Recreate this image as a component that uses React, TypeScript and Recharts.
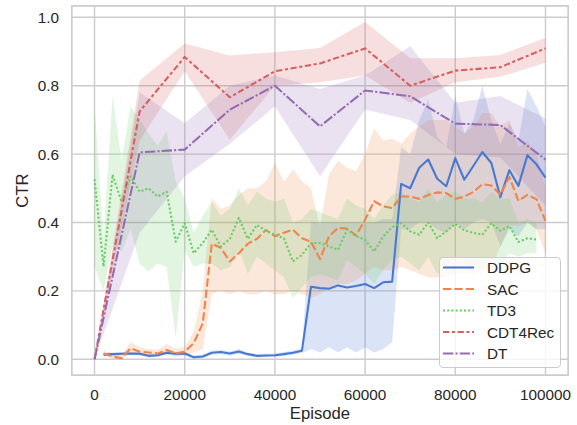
import { Area, CartesianGrid, ComposedChart, Label, Line, XAxis, YAxis } from "recharts";

const FONT = "'Liberation Sans', Arial, sans-serif";
const TEXT = "#262626";
const GRID = "#cccccc";

// x values
const EPISODES = [
  2000, 4000, 6000, 8000, 10000, 12000, 14000, 16000, 18000, 20000,
  22000, 24000, 26000, 28000, 30000, 32000, 34000, 36000, 38000, 40000,
  42000, 44000, 46000, 48000, 50000, 52000, 54000, 56000, 58000, 60000,
  62000, 64000, 66000, 68000, 70000, 72000, 74000, 76000, 78000, 80000,
  82000, 84000, 86000, 88000, 90000, 92000, 94000, 96000, 98000, 100000,
];
const TD3_EPISODES = [
  0, 2000, 4000, 6000, 8000, 10000, 12000, 14000, 16000, 18000,
  20000, 22000, 24000, 26000, 28000, 30000, 32000, 34000, 36000, 38000,
  40000, 42000, 44000, 46000, 48000, 50000, 52000, 54000, 56000, 58000,
  60000, 62000, 64000, 66000, 68000, 70000, 72000, 74000, 76000, 78000,
  80000, 82000, 84000, 86000, 88000, 90000, 92000, 94000, 96000, 98000,
];
const COARSE_EPISODES = [0, 10000, 20000, 30000, 40000, 50000, 60000, 70000, 80000, 90000, 100000];

const X_TICKS = [0, 20000, 40000, 60000, 80000, 100000];
const Y_TICKS = [0, 0.2, 0.4, 0.6, 0.8, 1.0];

// DDPG
const DDPG_MEAN = [
  0.013, 0.015, 0.016, 0.017, 0.016, 0.010, 0.012, 0.019, 0.016, 0.017,
  0.006, 0.008, 0.019, 0.021, 0.017, 0.023, 0.015, 0.010, 0.011, 0.012,
  0.015, 0.019, 0.025, 0.212, 0.208, 0.206, 0.216, 0.210, 0.214, 0.220,
  0.208, 0.225, 0.227, 0.513, 0.500, 0.560, 0.584, 0.528, 0.506, 0.588,
  0.525, 0.565, 0.606, 0.574, 0.474, 0.553, 0.507, 0.597, 0.570, 0.531,
];
const DDPG_LO = [
  0.008, 0.010, 0.011, 0.012, 0.011, 0.005, 0.007, 0.013, 0.011, 0.012,
  0.002, 0.003, 0.013, 0.015, 0.011, 0.016, 0.010, 0.005, 0.006, 0.007,
  0.010, 0.013, 0.018, 0.030, 0.020, 0.035, 0.020, 0.035, 0.020, 0.035,
  0.020, 0.030, 0.050, 0.380, 0.380, 0.400, 0.400, 0.380, 0.370, 0.400,
  0.380, 0.400, 0.410, 0.400, 0.330, 0.380, 0.360, 0.400, 0.380, 0.380,
];
const DDPG_HI = [
  0.018, 0.020, 0.021, 0.022, 0.021, 0.015, 0.017, 0.025, 0.021, 0.022,
  0.011, 0.013, 0.025, 0.027, 0.023, 0.030, 0.020, 0.015, 0.016, 0.017,
  0.021, 0.026, 0.033, 0.400, 0.400, 0.400, 0.400, 0.400, 0.400, 0.400,
  0.400, 0.410, 0.410, 0.620, 0.600, 0.700, 0.760, 0.650, 0.620, 0.770,
  0.660, 0.700, 0.800, 0.700, 0.630, 0.690, 0.640, 0.790, 0.740, 0.680,
];

// SAC
const SAC_MEAN = [
  0.017, 0.008, 0.003, 0.032, 0.022, 0.020, 0.017, 0.027, 0.017, 0.022,
  0.047, 0.105, 0.338, 0.326, 0.286, 0.310, 0.338, 0.352, 0.378, 0.360,
  0.370, 0.379, 0.354, 0.344, 0.293, 0.359, 0.384, 0.382, 0.362, 0.408,
  0.462, 0.447, 0.442, 0.476, 0.476, 0.469, 0.480, 0.488, 0.486, 0.469,
  0.476, 0.489, 0.512, 0.508, 0.481, 0.533, 0.463, 0.481, 0.468, 0.405,
];
const SAC_LO = [
  0.010, 0.002, 0.000, 0.020, 0.012, 0.010, 0.008, 0.015, 0.008, 0.012,
  0.020, 0.030, 0.190, 0.200, 0.190, 0.200, 0.190, 0.190, 0.200, 0.190,
  0.190, 0.200, 0.190, 0.180, 0.190, 0.210, 0.220, 0.220, 0.230, 0.250,
  0.270, 0.260, 0.260, 0.270, 0.260, 0.250, 0.240, 0.240, 0.240, 0.250,
  0.250, 0.250, 0.260, 0.270, 0.330, 0.390, 0.390, 0.400, 0.380, 0.310,
];
const SAC_HI = [
  0.025, 0.018, 0.012, 0.050, 0.035, 0.030, 0.028, 0.045, 0.030, 0.035,
  0.080, 0.200, 0.470, 0.440, 0.450, 0.480, 0.500, 0.500, 0.520, 0.575,
  0.520, 0.555, 0.520, 0.500, 0.385, 0.540, 0.580, 0.560, 0.550, 0.600,
  0.675, 0.640, 0.645, 0.630, 0.660, 0.680, 0.700, 0.700, 0.700, 0.680,
  0.660, 0.680, 0.720, 0.720, 0.680, 0.700, 0.620, 0.640, 0.600, 0.500,
];

// TD3
const TD3_MEAN = [
  0.527, 0.271, 0.540, 0.460, 0.535, 0.490, 0.500, 0.476, 0.490, 0.344,
  0.398, 0.310, 0.340, 0.379, 0.330, 0.352, 0.413, 0.352, 0.393, 0.376,
  0.364, 0.354, 0.286, 0.305, 0.340, 0.340, 0.330, 0.320, 0.379, 0.360,
  0.349, 0.315, 0.359, 0.386, 0.398, 0.374, 0.364, 0.400, 0.354, 0.374,
  0.396, 0.377, 0.370, 0.364, 0.398, 0.376, 0.390, 0.343, 0.354, 0.350,
];
const TD3_LO = [
  0.270, 0.200, 0.330, 0.315, 0.380, 0.280, 0.257, 0.280, 0.270, 0.062,
  0.320, 0.270, 0.280, 0.280, 0.260, 0.270, 0.320, 0.250, 0.300, 0.280,
  0.260, 0.240, 0.180, 0.210, 0.240, 0.250, 0.240, 0.230, 0.290, 0.270,
  0.250, 0.220, 0.260, 0.290, 0.300, 0.280, 0.260, 0.300, 0.250, 0.270,
  0.300, 0.280, 0.270, 0.260, 0.300, 0.280, 0.310, 0.300, 0.310, 0.310,
];
const TD3_HI = [
  0.740, 0.350, 0.770, 0.580, 0.740, 0.700, 0.660, 0.625, 0.665, 0.520,
  0.470, 0.370, 0.420, 0.460, 0.420, 0.440, 0.500, 0.450, 0.490, 0.470,
  0.460, 0.470, 0.400, 0.410, 0.440, 0.430, 0.420, 0.410, 0.470, 0.450,
  0.440, 0.410, 0.450, 0.480, 0.490, 0.470, 0.460, 0.500, 0.460, 0.480,
  0.490, 0.470, 0.470, 0.460, 0.490, 0.470, 0.470, 0.400, 0.410, 0.400,
];

// CDT4Rec
const CDT_MEAN = [0.0, 0.725, 0.884, 0.766, 0.842, 0.865, 0.909, 0.800, 0.844, 0.854, 0.909];
const CDT_LO = [0.0, 0.640, 0.842, 0.642, 0.800, 0.810, 0.830, 0.750, 0.810, 0.826, 0.867];
const CDT_HI = [0.0, 0.815, 0.923, 0.888, 0.898, 0.910, 0.986, 0.880, 0.880, 0.890, 0.940];

// DT
const DT_MEAN = [0.0, 0.605, 0.613, 0.730, 0.800, 0.681, 0.786, 0.769, 0.689, 0.685, 0.584];
const DT_LO = [0.0, 0.370, 0.535, 0.630, 0.740, 0.535, 0.730, 0.700, 0.600, 0.590, 0.450];
const DT_HI = [0.0, 0.780, 0.690, 0.800, 0.830, 0.790, 0.830, 0.915, 0.750, 0.770, 0.705];

type Row = { ep: number; mean: number; band: [number, number] };

function rows(xs: number[], mean: number[], lo: number[], hi: number[]): Row[] {
  return xs.map((x, i) => ({ ep: x, mean: mean[i], band: [lo[i], hi[i]] }));
}

const SERIES = [
  { name: "DDPG", color: "#4878d0", dash: undefined, data: rows(EPISODES, DDPG_MEAN, DDPG_LO, DDPG_HI) },
  { name: "SAC", color: "#ee854a", dash: "8.3 3.1", data: rows(EPISODES, SAC_MEAN, SAC_LO, SAC_HI) },
  { name: "TD3", color: "#6acc64", dash: "2.1 2.1", data: rows(TD3_EPISODES, TD3_MEAN, TD3_LO, TD3_HI) },
  { name: "CDT4Rec", color: "#d65f5f", dash: "6.25 2.6 3.1 2.6", data: rows(COARSE_EPISODES, CDT_MEAN, CDT_LO, CDT_HI) },
  { name: "DT", color: "#956cb4", dash: "10.4 2.1 2.1 2.1", data: rows(COARSE_EPISODES, DT_MEAN, DT_LO, DT_HI) },
];

function ChartLegend() {
  return (
    <div style={{
      position: "absolute", left: 439, top: 257, width: 122, height: 111,
      boxSizing: "border-box", border: `1px solid ${GRID}`, borderRadius: 4,
      background: "rgba(255,255,255,0.8)", pointerEvents: "none",
    }}>
      <svg width={122} height={111} style={{ position: "absolute", left: -1, top: -1 }}>
        {SERIES.map((s, i) => {
          const y = 10.5 + i * 21.5;
          return (
            <g key={s.name}>
              <line x1={4} x2={35} y1={y} y2={y} stroke={s.color} strokeWidth={2.08} strokeDasharray={s.dash} />
              <text x={48} y={y} dominantBaseline="central" fontSize={15.3} fontFamily={FONT} fill={TEXT}>{s.name}</text>
            </g>
          );
        })}
      </svg>
    </div>
  );
}

export default function App() {
  return (
    <div style={{ position: "absolute", left: 0, top: 0, width: 577, height: 425, background: "#fff", fontFamily: FONT }}>
      <ComposedChart width={577} height={425} margin={{ top: 6, right: 9, left: 0, bottom: 0 }}>
        <CartesianGrid stroke={GRID} strokeWidth={1.39} />
        <XAxis
          type="number"
          dataKey="ep"
          domain={[-5000, 105000]}
          ticks={X_TICKS}
          allowDataOverflow
          height={50}
          axisLine={false}
          tickLine={false}
          tickSize={0}
          tickMargin={14}
          tick={{ fill: TEXT, fontSize: 15.3, fontFamily: FONT }}
        >
          <Label value="Episode" position="insideBottom" offset={6} fill={TEXT} fontSize={16.7} fontFamily={FONT} />
        </XAxis>
        <YAxis
          type="number"
          domain={[-0.046, 1.033]}
          ticks={Y_TICKS}
          allowDataOverflow
          width={72}
          axisLine={false}
          tickLine={false}
          tickSize={0}
          tickMargin={13}
          tickFormatter={(v: number) => v.toFixed(1)}
          tick={{ fill: TEXT, fontSize: 15.3, fontFamily: FONT }}
        >
          <Label
            content={() => (
              <text x={22} y={190.5} transform="rotate(-90 22 190.5)" textAnchor="middle" dominantBaseline="central"
                fill={TEXT} fontSize={16.7} fontFamily={FONT}>CTR</text>
            )}
          />
        </YAxis>
        {SERIES.map((s) => (
          <Area
            key={`${s.name}-band`}
            data={s.data}
            dataKey="band"
            type="linear"
            stroke="none"
            fill={s.color}
            fillOpacity={0.2}
            isAnimationActive={false}
            activeDot={false}
          />
        ))}
        {SERIES.map((s) => (
          <Line
            key={s.name}
            data={s.data}
            dataKey="mean"
            type="linear"
            stroke={s.color}
            strokeWidth={2.08}
            strokeDasharray={s.dash}
            strokeLinejoin="round"
            dot={false}
            activeDot={false}
            isAnimationActive={false}
          />
        ))}
      </ComposedChart>
      <div style={{
        position: "absolute", left: 72, top: 6, width: 496, height: 369,
        boxSizing: "content-box", outline: `1.7px solid ${GRID}`, pointerEvents: "none",
      }} />
      <ChartLegend />
    </div>
  );
}
